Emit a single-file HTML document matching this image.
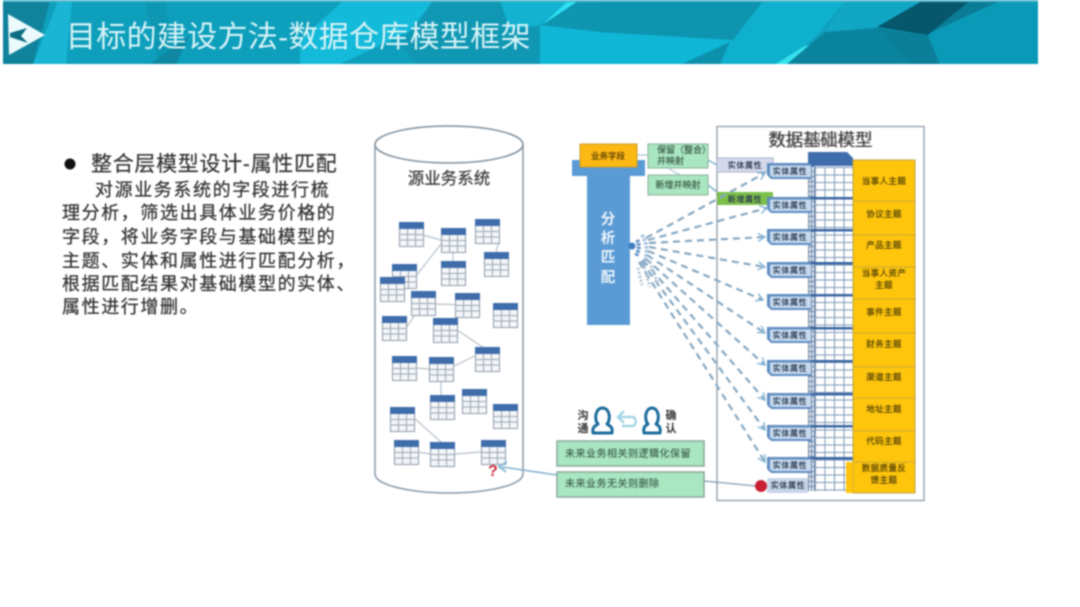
<!DOCTYPE html>
<html lang="zh"><head><meta charset="utf-8"><title>目标的建设方法-数据仓库模型框架</title>
<style>
html,body{margin:0;padding:0;background:#fff;width:1080px;height:607px;overflow:hidden}
svg{display:block;filter:blur(.7px)}
text{font-family:"Liberation Sans","Noto Sans CJK SC",sans-serif}
.b{font-size:18px;fill:#333;stroke:#333;stroke-width:.25;letter-spacing:1.6px}
.e{font-size:8px;fill:#2c3a4e;stroke:#2c3a4e;stroke-width:.2;text-anchor:middle;letter-spacing:.6px}
.y{font-size:8.5px;fill:#5a4608;stroke:#5a4608;stroke-width:.2;text-anchor:middle;letter-spacing:.4px}
.g{font-size:9px;fill:#3c5c48;stroke:#3c5c48;stroke-width:.15}
.s{fill:none;stroke:#8fa0b0;stroke-width:1.2;opacity:.65}
.d{fill:none;stroke:#86a8c2;stroke-width:2.2;stroke-dasharray:7 5;marker-end:url(#ah)}
</style></head><body>
<svg width="1080" height="607" viewBox="0 0 1080 607" xmlns="http://www.w3.org/2000/svg">
<defs>
<marker id="ah" markerWidth="10" markerHeight="10" refX="8" refY="5" orient="auto" markerUnits="userSpaceOnUse"><path d="M1 1L8 5L1 9" fill="none" stroke="#84b6d6" stroke-width="1.4"/></marker>
<g id="t">
<rect x=".5" y=".5" width="24" height="24" fill="#f4f6f9" stroke="#8e9aa8"/>
<rect width="25" height="7" fill="#3f6dab"/>
<path d="M0 12.500H25M0 18H25M8.500 7V25M16.500 7V25" stroke="#9aa6b4" fill="none"/>
</g>
<pattern id="gr" width="9.500" height="7.500" patternUnits="userSpaceOnUse" x="815" y="167"><rect width="9.500" height="7.500" fill="#fff"/><path d="M0 .5H9.500M.5 0V7.500" stroke="#7e98b8" stroke-width="1"/></pattern>
<pattern id="gs" width="3" height="5" patternUnits="userSpaceOnUse" x="808" y="166"><rect width="3" height="5" fill="#dfe6ee"/><path d="M0 .5H3M.5 0V5" stroke="#6c87a8" stroke-width="1"/></pattern>
<g id="eb">
<path d="M2 0H46V16H6L2 12Z" fill="#5f8cc0"/>
<path d="M5 2.500H46V14H7L5 12Z" fill="#c6daf0"/>
</g>
</defs>

<!-- header -->
<rect x="3" y="0" width="1035" height="64" fill="#0e9fbc"/>
<polygon points="3,1 50,1 33,64 3,64" fill="#10829b"/>
<polygon points="58,1 72,1 66,64 33,64" fill="#1ab4d4"/>
<polygon points="145,1 165,1 175,64 158,64" fill="#0d93ae" opacity=".6"/>
<polygon points="150,64 176,64 190,35" fill="#0e88a2"/>
<polygon points="343,1 433,1 417,28 340,64 300,64 300,40" fill="#14bada"/>
<polygon points="433,1 500,1 540,25 540,64 417,64 400,45" fill="#0f97b3"/>
<polygon points="500,1 577,1 540,25 510,30" fill="#12b2d0"/>
<polygon points="577,1 600,1 600,32 540,25" fill="#0e95b0"/>
<polygon points="568,1 578,1 542,25" fill="#2ee0f4"/>
<polygon points="540,25 600,32 733,40 720,64 540,64" fill="#0fb6d6"/>
<polygon points="600,1 763,1 733,40 600,32" fill="#0e94af"/>
<polygon points="682,64 730,42 720,64" fill="#0d90ab"/>
<polygon points="763,1 845,1 820,32 787,64 720,64 733,40" fill="#0fb0ce"/>
<polygon points="803,47 810,45 787,64 776,64" fill="#37e2ee"/>
<polygon points="845,1 922,1 877,27 825,32" fill="#11a6c4"/>
<polygon points="825,32 878,28 910,64 787,64" fill="#0a849e"/>
<polygon points="878,28 928,35 940,64 910,64" fill="#0b7f98"/>
<polygon points="922,1 970,1 928,35 877,27" fill="#06566c"/>
<polygon points="970,1 1000,1 930,33" fill="#0a7c95"/>
<polygon points="1000,1 1038,1 1038,64 940,64 928,35" fill="#0a9ab7"/>
<rect x="3" y="0" width="1035" height="2" fill="#4fb6cb"/>

<!-- logo -->
<polygon points="8,14 45,35 9,55" fill="#eafafd"/>
<polygon points="10,33 27,28 21,36 28,43 10,37" fill="#0c6c82"/>
<text x="66" y="47" font-size="30" fill="#d8f3f7" letter-spacing=".3">目标的建设方法-数据仓库模型框架</text>

<!-- left text -->
<circle cx="70" cy="164" r="5.500" fill="#111"/>
<text x="91" y="171" font-size="21" fill="#333" stroke="#333" stroke-width=".2" letter-spacing=".7">整合层模型设计-属性匹配</text>
<text class="b" x="95" y="196">对源业务系统的字段进行梳</text>
<text class="b" x="62" y="219">理分析，筛选出具体业务价格的</text>
<text class="b" x="62" y="243">字段，将业务字段与基础模型的</text>
<text class="b" x="62" y="267">主题、实体和属性进行匹配分析，</text>
<text class="b" x="62" y="290">根据匹配结果对基础模型的实体、</text>
<text class="b" x="62" y="313">属性进行增删。</text>

<!-- cylinder -->
<path d="M375 144V474C375 485 410 493 449 493C488 493 523 485 523 474V144" fill="#fff" stroke="#8a99a6" stroke-width="1.500"/>
<ellipse cx="449" cy="144.500" rx="74" ry="18.500" fill="#fff" stroke="#7f8f9c" stroke-width="1.500"/>
<text x="449" y="184" font-size="16.500" fill="#3c3c3c" stroke="#3c3c3c" stroke-width=".25" text-anchor="middle">源业务系统</text>

<path class="s" d="M423 235L441 240M441 244L416 276M453 252V261M499 240L496 252M406 328L423 303M435 304L467 305M457 330L487 350M416 368L429 369M454 366L475 356M441 381V395M414 418L442 443M418 452L430 454M455 454L481 452"/>
<use href="#t" x="399" y="222"/><use href="#t" x="441" y="228"/><use href="#t" x="475" y="219"/>
<use href="#t" x="484" y="252"/><use href="#t" x="441" y="261"/><use href="#t" x="392" y="264"/>
<use href="#t" x="380" y="277"/><use href="#t" x="411" y="291"/><use href="#t" x="455" y="293"/>
<use href="#t" x="493" y="303"/><use href="#t" x="382" y="316"/><use href="#t" x="433" y="318"/>
<use href="#t" x="475" y="347"/><use href="#t" x="392" y="356"/><use href="#t" x="429" y="357"/>
<use href="#t" x="430" y="395"/><use href="#t" x="462" y="389"/><use href="#t" x="493" y="404"/>
<use href="#t" x="390" y="407"/><use href="#t" x="394" y="440"/><use href="#t" x="430" y="442"/>
<use href="#t" x="481" y="440"/>
<text x="488" y="476" font-size="16" font-weight="bold" fill="#c9303e">?</text>

<!-- analysis column -->
<rect x="572" y="160" width="73" height="16" fill="#5b9bd5"/>
<rect x="587" y="170" width="43" height="155" fill="#5b9bd5"/>
<rect x="580" y="144" width="57" height="23" fill="#fdb913" stroke="#c99a2e"/>
<text x="608" y="159" font-size="8.500" fill="#5c3e08" stroke="#5c3e08" stroke-width=".2" text-anchor="middle">业务字段</text>
<g font-size="14.500" fill="#eaf3fb" text-anchor="middle" font-weight="bold">
<text x="608" y="224">分</text><text x="608" y="243">析</text><text x="608" y="262">匹</text><text x="608" y="282">配</text>
</g>

<!-- green mapping -->
<path d="M637 155L648 155M668 168L680 175" stroke="#8fb8c8" fill="none"/>
<path d="M708 160L717 165M708 185L717 192" stroke="#7cb4cc" stroke-width="1.500" fill="none"/>
<rect x="648" y="144" width="60" height="24" fill="#a9e6c2" stroke="#8eb09c"/>
<text class="g" x="657" y="153" font-size="8">保留（整合）</text>
<text class="g" x="657" y="164">并映射</text>
<rect x="648" y="175" width="60" height="20" fill="#a9e6c2" stroke="#8eb09c"/>
<text class="g" x="678" y="188" text-anchor="middle">新增并映射</text>

<!-- model box -->
<rect x="717" y="126.500" width="207" height="374" fill="#fff" stroke="#9aa7b1" stroke-width="1.500"/>
<text x="820" y="146" font-size="17.500" fill="#3f3f3f" text-anchor="middle" letter-spacing="-.2">数据基础模型</text>
<text x="820" y="146" font-size="17.500" fill="#3f3f3f" text-anchor="middle" opacity=".5" letter-spacing="-.2" dx="1">数据础模模型</text>

<!-- grid -->
<rect x="808" y="166" width="7" height="325" fill="url(#gs)"/>
<rect x="815" y="167" width="39" height="324" fill="url(#gr)"/>
<polygon points="808,152 847,152 853,158 853,166 808,166" fill="#3f6dab"/>
<g fill="#3a66a2">
<rect x="806" y="197" width="48" height="2.500"/><rect x="806" y="229" width="48" height="2.500"/>
<rect x="806" y="262" width="48" height="2.500"/><rect x="806" y="294" width="48" height="2.500"/>
<rect x="806" y="327" width="48" height="2.500"/><rect x="806" y="360" width="48" height="2.500"/>
<rect x="806" y="393" width="48" height="2.500"/><rect x="806" y="425" width="48" height="2.500"/>
<rect x="806" y="457" width="48" height="2.500"/>
</g>

<!-- entity boxes -->
<rect x="717" y="158" width="56" height="14" fill="#d4d9ec" stroke="#aab2c6"/>
<text class="e" x="745" y="168">实体属性</text>
<rect x="717" y="192" width="56" height="13" fill="#7cc04a"/>
<text class="e" x="745" y="202">新增属性</text>
<g>
<use href="#eb" x="765" y="163"/><use href="#eb" x="765" y="197"/><use href="#eb" x="765" y="229"/>
<use href="#eb" x="765" y="262"/><use href="#eb" x="765" y="294"/><use href="#eb" x="765" y="327"/>
<use href="#eb" x="765" y="360"/><use href="#eb" x="765" y="393"/><use href="#eb" x="765" y="425"/>
<use href="#eb" x="765" y="457"/>
</g>
<rect x="767" y="478" width="41" height="15" rx="2" fill="#c8d4e8"/>
<text class="e" x="790" y="174">实体属性</text><text class="e" x="790" y="208">实体属性</text><text class="e" x="790" y="240">实体属性</text>
<text class="e" x="790" y="273">实体属性</text><text class="e" x="790" y="305">实体属性</text><text class="e" x="790" y="338">实体属性</text>
<text class="e" x="790" y="371">实体属性</text><text class="e" x="790" y="404">实体属性</text><text class="e" x="790" y="436">实体属性</text>
<text class="e" x="790" y="468">实体属性</text><text class="e" x="788" y="488">实体属性</text>

<!-- yellow column -->
<rect x="853" y="160" width="62" height="333" fill="#fec50c" stroke="#b9a24a"/>
<polygon points="846,462 853,462 853,493 846,493" fill="#fec50c"/>
<path d="M853 201H915M853 235H915M853 267H915M853 299H915M853 333H915M853 367H915M853 398H915M853 431H915M853 462H915" stroke="#c7a93a" fill="none"/>
<text class="y" x="884" y="184">当事人主题</text>
<text class="y" x="884" y="217">协议主题</text>
<text class="y" x="884" y="248">产品主题</text>
<text class="y" x="884" y="276">当事人资产</text>
<text class="y" x="884" y="288">主题</text>
<text class="y" x="884" y="315">事件主题</text>
<text class="y" x="884" y="347">财务主题</text>
<text class="y" x="884" y="380">渠道主题</text>
<text class="y" x="884" y="412">地址主题</text>
<text class="y" x="884" y="444">代码主题</text>
<text class="y" x="884" y="471">数据质量反</text>
<text class="y" x="884" y="483">馈主题</text>

<!-- dashed fan -->
<g>
<path class="d" d="M646 238L765 173"/>
<path class="d" d="M648 240L767 208"/>
<path class="d" d="M649 243L765 237"/>
<path class="d" d="M649 247L765 267"/>
<path class="d" d="M648 251L763 300"/>
<path class="d" d="M647 255L765 333"/>
<path class="d" d="M645 258L765 365"/>
<path class="d" d="M643 260L765 400"/>
<path class="d" d="M641 261L765 430"/>
<path class="d" d="M639 262L765 462"/>
</g>
<circle cx="632" cy="246" r="3.500" fill="#3f7fc0"/>
<path d="M637 240Q641 247 636 256" fill="none" stroke="#5f93c8" stroke-width="4" stroke-dasharray="2.500 1"/>
<path d="M642 235Q650 248 644 262" fill="none" stroke="#9cbcd8" stroke-width="3.500" stroke-dasharray="2.500 1.500"/>
<path d="M650 262L658 285M644 267L650 287M638 268L642 285" fill="none" stroke="#b0c2d2" stroke-width="3" stroke-dasharray="2 2"/>

<!-- bottom -->
<g font-size="11" font-weight="bold" fill="#333" text-anchor="middle">
<text x="583" y="419">沟</text><text x="583" y="432">通</text>
<text x="671" y="419">确</text><text x="671" y="432">认</text>
</g>
<g fill="#fff" stroke="#1c6c9c" stroke-width="3" stroke-linejoin="round">
<path d="M598 424C594 420 595 408 602.500 408C610 408 611 420 607 424C610 426 613 427 612 433H593C592 427 595 426 598 424Z"/>
<path d="M648 424C644 420 645 408 652 408C659 408 660 420 656 424C659 426 661 427 660 433H644C643 427 645 426 648 424Z"/>
</g>
<path d="M624 411L618 417L624 423M618 417H632C637 417 637 426 632 426H622" fill="none" stroke="#a4d6e6" stroke-width="2.500"/>
<rect x="557" y="441" width="147" height="25" fill="#a9e6c2" stroke="#8ba89a" stroke-width="1.500"/>
<text x="565" y="457" font-size="10" fill="#3f6050" stroke="#3f6050" stroke-width=".15" letter-spacing=".5">未来业务相关则逻辑化保留</text>
<rect x="557" y="472" width="147" height="25" fill="#a9e6c2" stroke="#8ba89a" stroke-width="1.500"/>
<text x="565" y="487" font-size="10" fill="#3f6050" stroke="#3f6050" stroke-width=".15" letter-spacing=".5">未来业务无关则删除</text>
<path d="M704 481L756 486" stroke="#7f9fb0" stroke-width="1.200" fill="none"/>
<circle cx="761" cy="486" r="6" fill="#c62032"/>
<path d="M557 475L502 467" stroke="#7fb0d0" stroke-width="1.500" fill="none"/>
<path d="M507 462L499 466.500L506 472" fill="none" stroke="#7fb8d8" stroke-width="1.800"/>
</svg>
</body></html>
